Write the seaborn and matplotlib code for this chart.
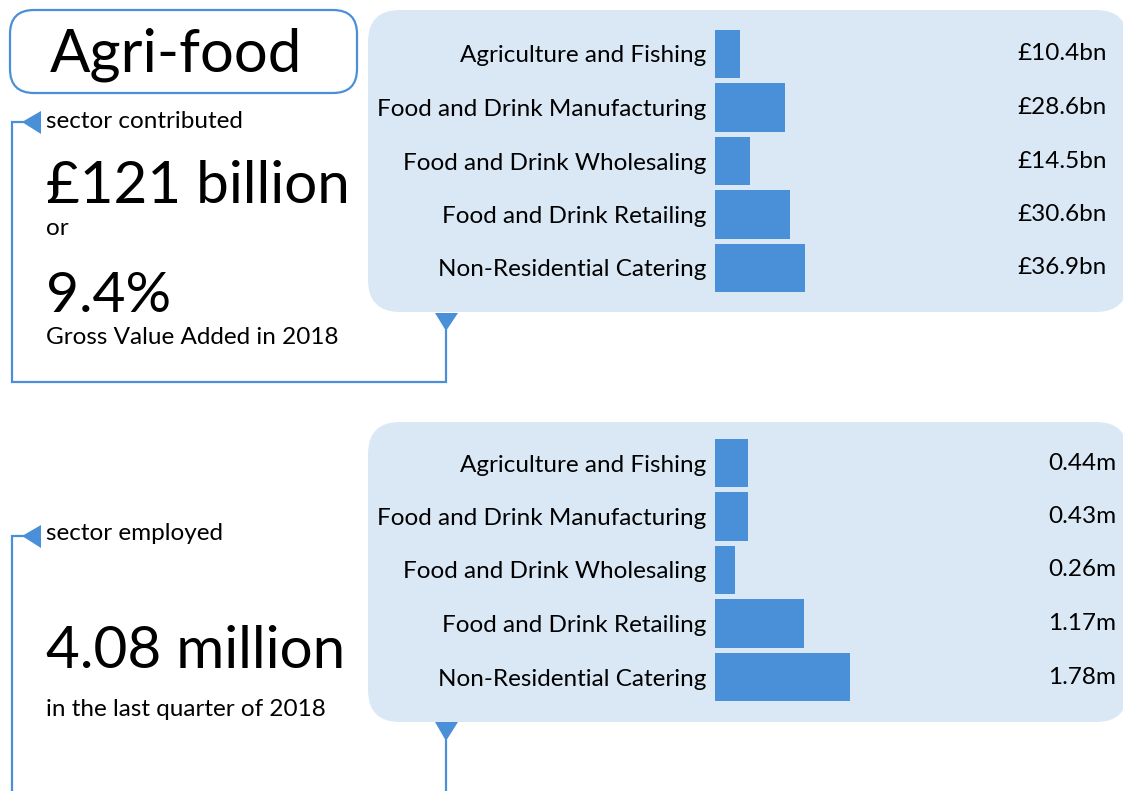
import matplotlib
matplotlib.use("Agg")
import matplotlib.pyplot as plt
from matplotlib.patches import FancyBboxPatch, Polygon
import pandas as pd
import seaborn as sns

# data
categories = ["Agriculture and Fishing", "Food and Drink Manufacturing",
              "Food and Drink Wholesaling", "Food and Drink Retailing",
              "Non-Residential Catering"]
gva_bn = [10.4, 28.6, 14.5, 30.6, 36.9]
employed_m = [0.44, 0.43, 0.26, 1.17, 1.78]
gva_labels = ["£10.4bn", "£28.6bn", "£14.5bn", "£30.6bn", "£36.9bn"]
employed_labels = ["0.44m", "0.43m", "0.26m", "1.17m", "1.78m"]

W, H = 1123, 791
blue = "#4a90d9"
panel = "#dae8f6"

sns.set_theme(style="white")
plt.rcParams['font.family'] = ['Lato', 'DejaVu Sans']
plt.rcParams['text.color'] = 'black'
plt.rcParams['ytick.labelcolor'] = 'black'

fig = plt.figure(figsize=(W / 100, H / 100), dpi=100)

# background axes in pixel units (y down)
bg = fig.add_axes([0, 0, 1, 1])
bg.set_xlim(0, W)
bg.set_ylim(H, 0)
bg.axis("off")

# title box
bg.add_patch(FancyBboxPatch((10, 10), 347, 83, boxstyle="round,pad=0,rounding_size=24",
                            fc="white", ec=blue, lw=1.6))
bg.text(50, 72, "Agri-food", fontsize=43, va="baseline", ha="left")

# panels
for top, bottom in [(10, 312), (422, 722)]:
    bg.add_patch(FancyBboxPatch((368, top), 760, bottom - top,
                                boxstyle="round,pad=0,rounding_size=32",
                                fc=panel, ec="none"))

# connectors
bg.plot([446, 446, 12, 12, 24], [330, 382, 382, 122, 122], color=blue, lw=1.6,
        solid_joinstyle="miter")
bg.plot([24, 12, 12], [536, 536, H + 5], color=blue, lw=1.6, solid_joinstyle="miter")
bg.plot([446, 446], [740, H + 5], color=blue, lw=1.6)
for tri in [[(435, 313), (458, 313), (446, 331)],
            [(435, 722), (458, 722), (446, 741)],
            [(22, 122), (41, 111), (41, 134)],
            [(22, 536), (41, 525), (41, 548)]]:
    bg.add_patch(Polygon(tri, closed=True, fc=blue, ec="none"))

# left texts
bg.text(46, 128, "sector contributed", fontsize=17.5, va="baseline")
bg.text(46, 203, "£121 billion", fontsize=42, va="baseline")
bg.text(46, 235, "or", fontsize=17.5, va="baseline")
bg.text(46, 312, "9.4%", fontsize=41, va="baseline")
bg.text(46, 344, "Gross Value Added in 2018", fontsize=17.5, va="baseline")
bg.text(46, 540, "sector employed", fontsize=17.5, va="baseline")
bg.text(46, 668, "4.08 million", fontsize=42, va="baseline")
bg.text(46, 716, "in the last quarter of 2018", fontsize=17.5, va="baseline")


def bar_panel(values, labels, y_top, y_bottom, px_per_unit, label_x):
    left_px, right_px = 715, W
    ax = fig.add_axes([left_px / W, 1 - y_bottom / H, (right_px - left_px) / W,
                       (y_bottom - y_top) / H])
    df = pd.DataFrame({"category": categories, "value": values})
    sns.barplot(data=df, x="value", y="category", ax=ax, color=blue,
                saturation=1, width=0.9, linewidth=0, edgecolor="none")
    ax.set_xlim(0, (right_px - left_px) / px_per_unit)
    ax.set_ylim(4.5, -0.5)
    ax.set_facecolor("none")
    sns.despine(ax=ax, left=True, bottom=True)
    ax.set_xticks([])
    ax.set_xlabel("")
    ax.set_ylabel("")
    ax.tick_params(axis="y", length=0, pad=6, labelsize=17.5, labelcolor="black")
    for i, lab in enumerate(labels):
        ax.text((label_x - left_px) / (right_px - left_px), i, lab,
                transform=ax.get_yaxis_transform(), ha="right", va="center",
                fontsize=17.5)
    return ax


bar_panel(gva_bn, gva_labels, 27.25, 294.75, 90 / 36.9, 1107)
bar_panel(employed_m, employed_labels, 436.25, 703.75, 135 / 1.78, 1116)

fig.savefig("out.png", dpi=100)
